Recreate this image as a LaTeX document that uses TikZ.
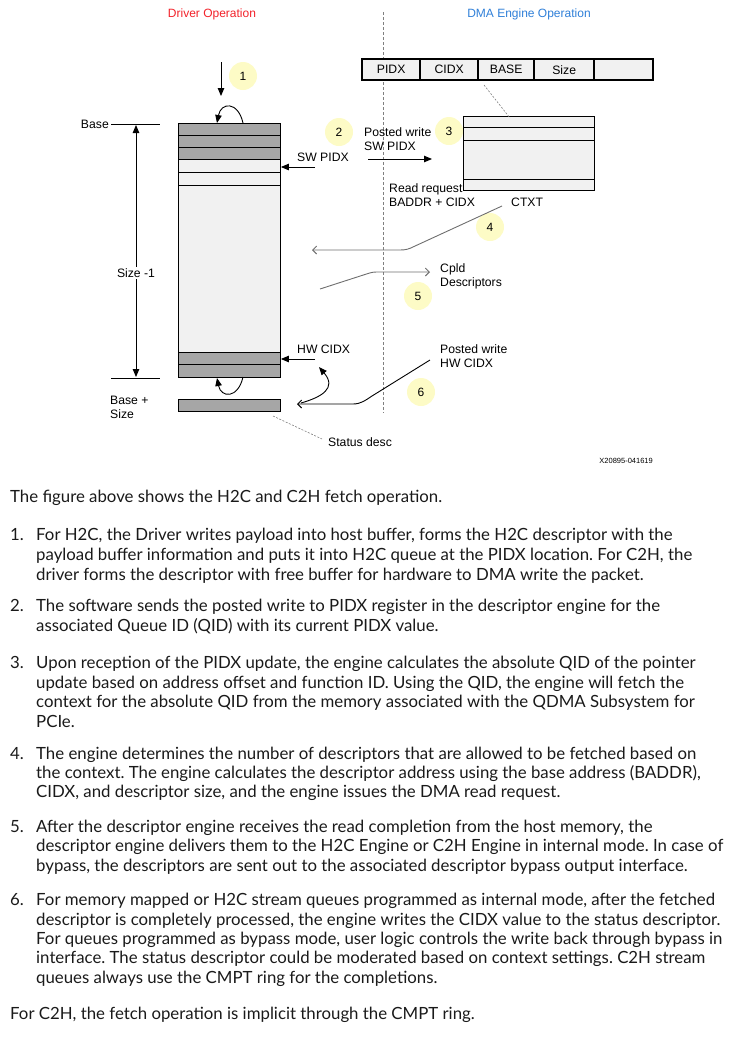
\documentclass[tikz,border=0pt]{standalone}
\usepackage{fontspec}
\setmainfont{Lato}
\newfontfamily\diag{Liberation Sans}
\usetikzlibrary{arrows.meta}
\definecolor{numyellow}{HTML}{FDFBC6}
\definecolor{lightg}{HTML}{F1F1F1}
\definecolor{slotg}{HTML}{A6A6A6}
\definecolor{hdrred}{HTML}{F2222A}
\definecolor{hdrblue}{HTML}{2F7FD8}
\definecolor{linegray}{HTML}{6E6E6E}
\definecolor{bodyink}{HTML}{1A1A1A}
\frenchspacing
\begin{document}
\begin{tikzpicture}[x=1pt,y=-1pt,
  lbl/.style={font=\diag\fontsize{12.2}{14}\selectfont, inner sep=0pt, align=left},
  hdr/.style={font=\diag\fontsize{12}{14}\selectfont, inner sep=0pt},
  num/.style={circle, fill=numyellow, minimum size=28pt, inner sep=0pt, font=\diag\fontsize{12}{14}\selectfont},
  cell/.style={draw, line width=0.9pt, anchor=north west, inner sep=0pt, minimum width=102pt},
  lcell/.style={cell, fill=lightg},
  gcell/.style={cell, fill=slotg},
  reg/.style={draw, line width=2.4pt, fill=lightg, anchor=north west, inner sep=0pt, minimum height=21pt, font=\diag\fontsize{12.2}{14}\selectfont},
  ctx/.style={draw, line width=0.9pt, fill=lightg, anchor=north west, inner sep=0pt, minimum width=131pt},
  fa/.style={-{Triangle[length=8pt,width=6.5pt]}, line width=0.9pt},
  oa/.style={-{Straight Barb[length=4pt,width=8pt]}, line width=0.9pt},
  guide/.style={gray, dashed, dash pattern=on 2pt off 1.5pt, line width=0.6pt},
  body/.style={anchor=base west, inner sep=0pt, text=bodyink, font=\fontsize{16.8}{20}\selectfont}
]
\useasboundingbox (0,0) rectangle (739,1037);

% headers
\node[hdr, text=hdrred] (hdrl) at (212,14) {Driver Operation};
\node[hdr, text=hdrblue] (hdrr) at (529,14) {DMA Engine Operation};
\coordinate (divtop) at (383,12);
\coordinate (divbot) at (383,413);
\draw[gray, dashed, dash pattern=on 3pt off 2pt, line width=0.7pt] (divtop) -- (divbot);

% ring in host memory
\node[lcell, minimum height=254pt] (ring) at (178,123) {};
\node[gcell, minimum height=12pt] (s1) at (178,123) {};
\node[gcell, minimum height=12pt] (s2) at (178,135) {};
\node[gcell, minimum height=12pt] (s3) at (178,147) {};
\node[lcell, minimum height=13pt] (w1) at (178,159) {};
\node[lcell, minimum height=13pt] (w2) at (178,172) {};
\node[gcell, minimum height=12pt] (b1) at (178,352) {};
\node[gcell, minimum height=13pt] (b2) at (178,364) {};
\node[gcell, minimum height=12pt] (stat) at (178,399) {};

% register table
\node[reg, minimum width=58pt] (rpidx) at (361,58) {PIDX};
\node[reg, minimum width=58pt] (rcidx) at (419,58) {CIDX};
\node[reg, minimum width=56pt] (rbase) at (477,58) {BASE};
\node[reg, minimum width=60pt] (rsize) at (533,58) {Size};
\node[reg, minimum width=59pt] (rext) at (593,58) {};

% context box
\node[ctx, minimum height=11pt] (c1) at (463,116) {};
\node[ctx, minimum height=13pt] (c2) at (463,127) {};
\node[ctx, minimum height=39pt] (c3) at (463,140) {};
\node[ctx, minimum height=11pt] (c4) at (463,179) {};

% number circles
\node[num] (n1) at (243,76) {1};
\node[num] (n2) at (339,132) {2};
\node[num] (n3) at (449,131) {3};
\node[num] (n4) at (490,227) {4};
\node[num] (n5) at (418,296) {5};
\node[num] (n6) at (421,392) {6};

% labels
\node[lbl, anchor=east] (lbase) at (109,124) {Base};
\node[lbl, anchor=west] (lbs) at (110,407) {Base +\\Size};
\node[lbl, fill=white, inner sep=1.5pt] (lsize) at (136,273) {Size -1};
\node[lbl, anchor=west] (lswp) at (297,157) {SW PIDX};
\node[lbl, anchor=west] (lhwc) at (297,349) {HW CIDX};
\node[lbl, anchor=west] (lpw1) at (364,139) {Posted write\\SW PIDX};
\node[lbl, anchor=west] (lrr) at (389,195) {Read request\\BADDR + CIDX};
\node[lbl, anchor=west] (lctxt) at (511,202) {CTXT};
\node[lbl, anchor=west] (lcpl) at (440,276) {Cpld\\Descriptors};
\node[lbl, anchor=west] (lpw2) at (440,356) {Posted write\\HW CIDX};
\node[lbl, anchor=west] (lstat) at (328,442) {Status desc};
\node[font=\diag\fontsize{7.5}{9}\selectfont, inner sep=0pt, anchor=east] (fig) at (653,461) {X20895-041619};

% dimension lines
\coordinate (bl1) at (111,124); \coordinate (br1) at (160,124);
\coordinate (bl2) at (111,378); \coordinate (br2) at (160,378);
\draw[line width=0.9pt] (bl1) -- (br1);
\draw[line width=0.9pt] (bl2) -- (br2);
\coordinate (dt) at (136,125); \coordinate (db) at (136,377);
\draw[fa] (lsize.north) -- (dt);
\draw[fa] (lsize.south) -- (db);

% step 1
\coordinate (a1s) at (221,62); \coordinate (a1e) at (221,96);
\draw[fa] (a1s) -- (a1e);
\coordinate (t1s) at (243,123); \coordinate (t1e) at (217,123);
\draw[fa] (t1s) .. controls (238,101) and (221,102) .. (t1e);
\coordinate (t2s) at (243,377); \coordinate (t2e) at (217,378);
\draw[fa] (t2s) .. controls (238,399) and (221,398) .. (t2e);

% SW PIDX / HW CIDX pointers
\coordinate (swp) at (315,167);
\draw[fa] (swp) -- (w1.east |- swp);
\coordinate (hwc) at (315,359);
\draw[fa] (hwc) -- (b1.east |- hwc);

% step 2 posted write
\coordinate (pws) at (368,159); \coordinate (pwe) at (432,159);
\draw[fa] (pws) -- (pwe);

% dotted guides
\coordinate (g1s) at (484,85); \coordinate (g1e) at (510,118);
\draw[guide] (g1s) -- (g1e);
\coordinate (g2s) at (273,416); \coordinate (g2e) at (322,439);
\draw[guide] (g2s) -- (g2e);

% step 4 read request
\coordinate (r4s) at (502,206); \coordinate (r4e) at (312,250);
\draw[oa, linegray] (r4s) -- (414,246.5) .. controls (409,249) and (406,250) .. (400,250) -- (r4e);

% step 5 completion
\coordinate (c5s) at (320,289); \coordinate (c5e) at (430,272);
\draw[oa, linegray] (c5s) -- (368,273.5) .. controls (371,272.5) and (373,272) .. (377,272) -- (c5e);

% step 6 posted write HW CIDX
\coordinate (p6s) at (430,360); \coordinate (p6e) at (297,404);
\draw[oa] (p6s) -- (372,396) .. controls (366,400) and (361,404) .. (353,404) -- (p6e);
\coordinate (cvs) at (301,403); \coordinate (cve) at (319,367);
\draw[fa] (cvs) .. controls (322,397) and (337,388) .. (cve);

% body text
\node[body] (intro) at (10,502.5) {The figure above shows the H2C and C2H fetch operation.};
\node[body] (i1) at (10,540) {1.};
\node[body] (l1a) at (36,540) {For H2C, the Driver writes payload into host buffer, forms the H2C descriptor with the};
\node[body] (l1b) at (36,560) {payload buffer information and puts it into H2C queue at the PIDX location. For C2H, the};
\node[body] (l1c) at (36,580) {driver forms the descriptor with free buffer for hardware to DMA write the packet.};
\node[body] (i2) at (10,611) {2.};
\node[body] (l2a) at (36,611) {The software sends the posted write to PIDX register in the descriptor engine for the};
\node[body] (l2b) at (36,631) {associated Queue ID (QID) with its current PIDX value.};
\node[body] (i3) at (10,668) {3.};
\node[body] (l3a) at (36,668) {Upon reception of the PIDX update, the engine calculates the absolute QID of the pointer};
\node[body] (l3b) at (36,688) {update based on address offset and function ID. Using the QID, the engine will fetch the};
\node[body] (l3c) at (36,707) {context for the absolute QID from the memory associated with the QDMA Subsystem for};
\node[body] (l3d) at (36,727) {PCIe.};
\node[body] (i4) at (10,759) {4.};
\node[body] (l4a) at (36,759) {The engine determines the number of descriptors that are allowed to be fetched based on};
\node[body] (l4b) at (36,778) {the context. The engine calculates the descriptor address using the base address (BADDR),};
\node[body] (l4c) at (36,797) {CIDX, and descriptor size, and the engine issues the DMA read request.};
\node[body] (i5) at (10,832) {5.};
\node[body] (l5a) at (36,832) {After the descriptor engine receives the read completion from the host memory, the};
\node[body] (l5b) at (36,851) {descriptor engine delivers them to the H2C Engine or C2H Engine in internal mode. In case of};
\node[body] (l5c) at (36,871) {bypass, the descriptors are sent out to the associated descriptor bypass output interface.};
\node[body] (i6) at (10,905) {6.};
\node[body] (l6a) at (36,905) {For memory mapped or H2C stream queues programmed as internal mode, after the fetched};
\node[body] (l6b) at (36,925) {descriptor is completely processed, the engine writes the CIDX value to the status descriptor.};
\node[body] (l6c) at (36,944) {For queues programmed as bypass mode, user logic controls the write back through bypass in};
\node[body] (l6d) at (36,963) {interface. The status descriptor could be moderated based on context settings. C2H stream};
\node[body] (l6e) at (36,983) {queues always use the CMPT ring for the completions.};
\node[body] (outro) at (10,1019) {For C2H, the fetch operation is implicit through the CMPT ring.};
\end{tikzpicture}
\end{document}
